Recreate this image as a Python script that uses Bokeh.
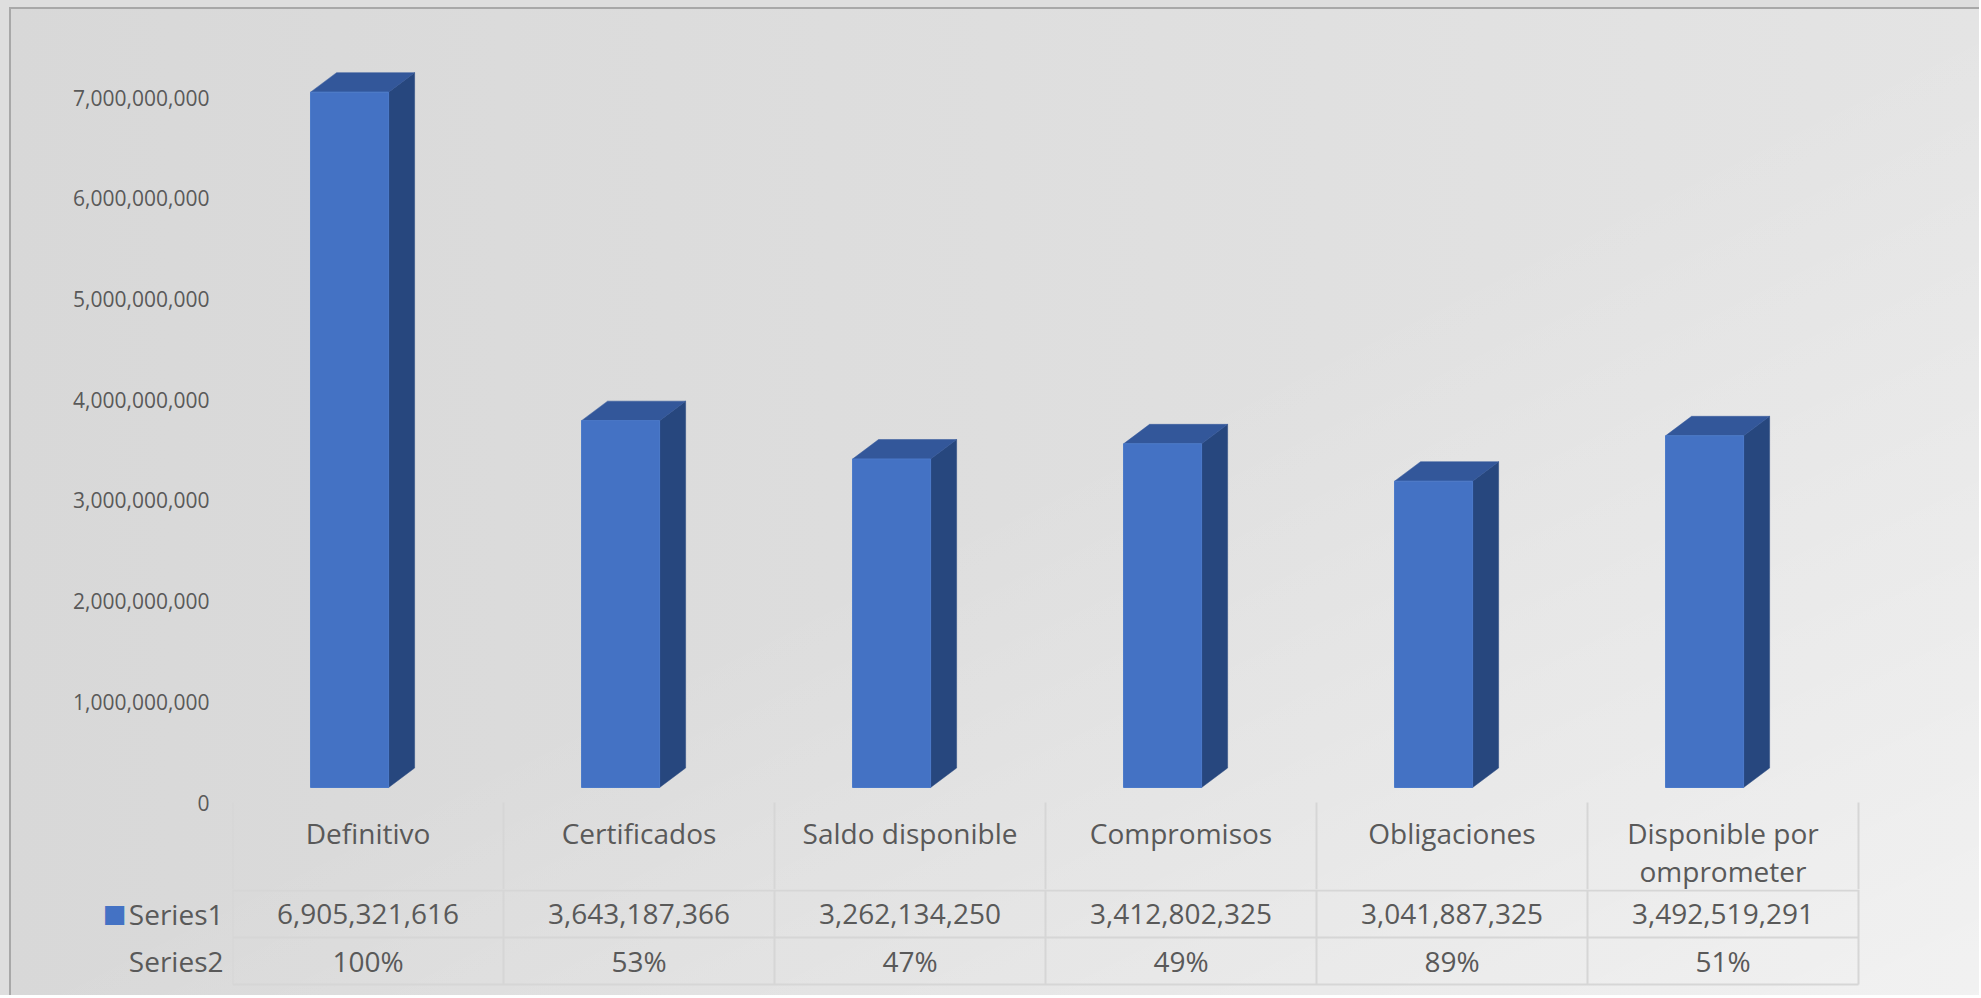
import numpy as np
from bokeh.plotting import figure
from bokeh.layouts import column
from bokeh.models import Range1d, FixedTicker, NumeralTickFormatter, LinearAxis
from bokeh.core.properties import value
from bokeh.embed import file_html
from bokeh.resources import INLINE

# ---------------- data ----------------
categories = ["Definitivo", "Certificados", "Saldo disponible", "Compromisos",
              "Obligaciones", "Disponible por\nomprometer"]
series1 = [6905321616, 3643187366, 3262134250, 3412802325, 3041887325, 3492519291]
series2 = [1.00, 0.53, 0.47, 0.49, 0.89, 0.51]
series_names = ["Series1", "Series2"]
y_ticks = [0, 1e9, 2e9, 3e9, 4e9, 5e9, 6e9, 7e9]

# ---------------- style ----------------
FONT = "Open Sans"
TXT = "#595959"
FRONT = "#4472c4"
SIDE = "#27477e"
TOP = "#33579a"
GRID = "#d6d6d6"

W = 1970
LEFT = 223            # left panel width (px)
PXC = 271.0           # px per category
PXY = 100.7 / 1e9     # px per unit value
CH = 882              # chart figure height (includes the table header row)
ZERO = 795            # px from chart top to value 0
TH = 106              # table figure height (value rows)

x_end = (W - LEFT) / PXC


def style_axis(a, size, standoff, color=TXT, font=FONT):
    a.axis_line_color = None
    a.major_tick_line_color = None
    a.minor_tick_line_color = None
    a.major_tick_out = 0
    a.major_tick_in = 0
    a.minor_tick_out = 0
    a.major_label_text_font = font
    a.major_label_text_font_size = size
    a.major_label_text_color = color
    a.major_label_standoff = standoff


# ---------------- chart ----------------
p = figure(width=W, height=CH, output_backend="svg", toolbar_location=None,
           x_range=Range1d(0, x_end),
           y_range=Range1d(-(CH - ZERO) / PXY, ZERO / PXY),
           x_axis_location=None, y_axis_location="left",
           min_border_left=LEFT, min_border_right=0, min_border_top=0, min_border_bottom=0)
p.background_fill_alpha = 0
p.border_fill_alpha = 0
p.outline_line_color = None
p.xgrid.visible = False
p.ygrid.visible = False

ax = p.yaxis[0]
ax.ticker = FixedTicker(ticks=y_ticks)
ax.formatter = NumeralTickFormatter(format="0,0")
style_axis(ax, "21px", 23)

n = len(categories)
idx = np.arange(n)
vals = np.array(series1, dtype=float)
base = 15 / PXY          # 3-D floor offset of the front faces
dx = 0.096               # depth in category units
dy = 19.5 / PXY          # depth in value units
xl = idx + 0.288
xr = idx + 0.576
top = base + vals

side_xs = [[a, a + dx, a + dx, a] for a in xr]
side_ys = [[base, base + dy, t + dy, t] for t in top]
top_xs = [[l, l + dx, r + dx, r] for l, r in zip(xl, xr)]
top_ys = [[t, t + dy, t + dy, t] for t in top]

p.patches(side_xs, side_ys, fill_color=SIDE, line_color=SIDE, line_width=0.5)
p.patches(top_xs, top_ys, fill_color=TOP, line_color=TOP, line_width=0.5)
p.quad(left=xl, right=xr, bottom=base, top=top, fill_color=FRONT,
       line_color="#4a79c9", line_width=1)

# data-table header row (category names) below the plot area
bounds = np.arange(n + 1)
centers = idx + 0.5
p.segment(x0=bounds, y0=0, x1=bounds, y1=-(CH - ZERO) / PXY, line_color=GRID, line_width=2)
line1 = [c.split("\n")[0] for c in categories]
line2 = [c.split("\n")[1] if "\n" in c else "" for c in categories]
common = dict(text_font=value(FONT), text_font_size=value("28px"), text_color=TXT,
              text_baseline="middle", text_align="center")
p.text(x=centers, y=[-30 / PXY] * n, text=line1, **common)
p.text(x=centers, y=[-68 / PXY] * n, text=line2, **common)

# ---------------- data table (value rows) ----------------
row_y = [24, 71]
line_y = [1, 48, 95]

t = figure(width=W, height=TH, output_backend="svg", toolbar_location=None,
           x_range=Range1d(0, x_end), y_range=Range1d(TH, 0),
           x_axis_location=None, y_axis_location="left",
           min_border_left=LEFT, min_border_right=0, min_border_top=0, min_border_bottom=0)
t.background_fill_alpha = 0
t.border_fill_alpha = 0
t.outline_line_color = None
t.xgrid.visible = False
t.ygrid.visible = False

tax = t.yaxis[0]
tax.ticker = FixedTicker(ticks=row_y)
tax.major_label_overrides = {row_y[0]: series_names[0], row_y[1]: series_names[1]}
style_axis(tax, "28px", 9)

# legend key of Series1, left of the row label
kax = LinearAxis(ticker=FixedTicker(ticks=[row_y[0]]),
                 major_label_overrides={row_y[0]: "\u25a0"})
style_axis(kax, "25px", -1, color=FRONT, font="DejaVu Sans")
t.add_layout(kax, "left")

t.segment(x0=bounds, y0=0, x1=bounds, y1=line_y[-1], line_color=GRID, line_width=2)
t.segment(x0=[0] * 3, y0=line_y, x1=[n] * 3, y1=line_y, line_color=GRID, line_width=2)

t.text(x=centers, y=[row_y[0]] * n, text=[f"{v:,.0f}" for v in series1], **common)
t.text(x=centers, y=[row_y[1]] * n, text=[f"{v:.0%}" for v in series2], **common)

inner = column(p, t, spacing=0, styles={
    "background": "linear-gradient(to bottom right, rgba(255,255,255,0) 50%, "
                  "rgba(255,255,255,0.5) 100%), linear-gradient(to right, #d8d8d8, #e4e4e4)",
    "box-shadow": "inset 2px 2px 0 0 #a8a8a8",
})
layout = column(inner, styles={"background": "#dedede", "padding": "7px 0 0 9px"})

open("out.html", "w").write(file_html(layout, INLINE))
